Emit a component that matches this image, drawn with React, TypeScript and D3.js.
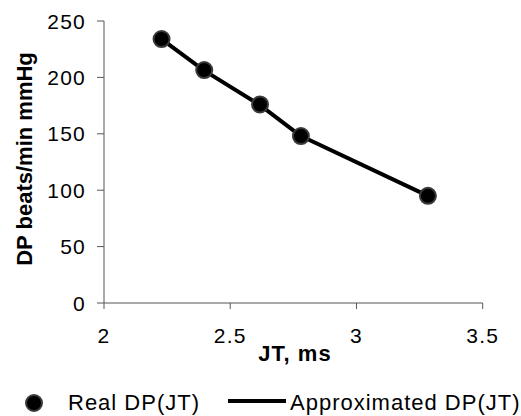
import React from 'react';
import * as d3 from 'd3';

// JT (ms) vs double product
const jtValues = [2.228, 2.397, 2.618, 2.78, 3.283];
const realDP = [234, 206.5, 176, 148, 95];
const approxDP = [234, 206, 175.5, 148, 95];
const xTicks = [2, 2.5, 3, 3.5];
const yTicks = [0, 50, 100, 150, 200, 250];

const W = 521;
const H = 416;
const FONT = 'Liberation Sans, Arial, sans-serif';

const App = () => {
    const x = d3.scaleLinear().domain([2, 3.5]).range([104, 482.7]);
    const y = d3.scaleLinear().domain([0, 250]).range([303, 21]);

    const line = d3.line<number>()
        .x((_, i) => x(jtValues[i]))
        .y(d => y(d));

    const axisColor = '#555';

    return (
        <svg width={W} height={H} style={{ position: 'absolute', left: 0, top: 0 }} fontFamily={FONT}>
            <rect width={W} height={H} fill="#fff" />

            {/* axes */}
            <line x1={x(2)} x2={x(3.5)} y1={y(0)} y2={y(0)} stroke={axisColor} strokeWidth={1} />
            <line x1={x(2)} x2={x(2)} y1={y(0)} y2={y(250)} stroke={axisColor} strokeWidth={1} />

            {yTicks.map(t => (
                <g key={'y' + t}>
                    <line x1={x(2) - 7} x2={x(2)} y1={y(t)} y2={y(t)} stroke={axisColor} />
                    <text x={86} y={y(t)} dy="0.36em" textAnchor="end" fontSize={21} letterSpacing={1.2} fill="#000">
                        {t}
                    </text>
                </g>
            ))}
            {xTicks.map(t => (
                <g key={'x' + t}>
                    <line x1={x(t)} x2={x(t)} y1={y(0)} y2={y(0) + 6} stroke={axisColor} />
                    <text x={x(t)} y={343} textAnchor="middle" fontSize={21} letterSpacing={1.2} fill="#000">
                        {t}
                    </text>
                </g>
            ))}

            {/* axis titles */}
            <text x={295} y={361} textAnchor="middle" fontSize={22} fontWeight="bold" letterSpacing={1}>
                JT, ms
            </text>
            <text
                transform={`translate(32,159) rotate(-90)`}
                textAnchor="middle"
                fontSize={22}
                fontWeight="bold"
            >
                DP beats/min mmHg
            </text>

            {/* approximated curve */}
            <path d={line(approxDP) ?? ''} fill="none" stroke="#000" strokeWidth={4} strokeLinejoin="round" />

            {/* real points */}
            {realDP.map((v, i) => (
                <circle key={i} cx={x(jtValues[i])} cy={y(v)} r={8} fill="#000" stroke="#3a3a3a" strokeWidth={2} />
            ))}

            {/* legend */}
            <circle cx={34} cy={403} r={8} fill="#000" stroke="#3a3a3a" strokeWidth={2} />
            <text x={68} y={410} fontSize={22} letterSpacing={1}>Real DP(JT)</text>
            <line x1={228} x2={286} y1={401} y2={401} stroke="#000" strokeWidth={4} />
            <text x={290} y={410} fontSize={22} letterSpacing={1}>Approximated DP(JT)</text>
        </svg>
    );
};

export default App;
